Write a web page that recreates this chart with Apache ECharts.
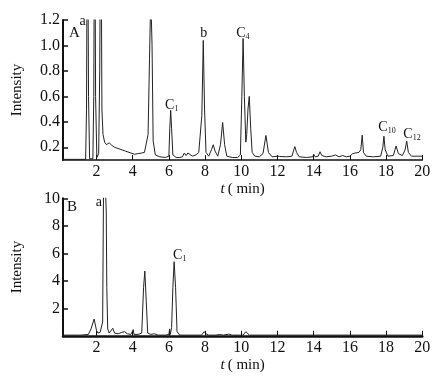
<!DOCTYPE html>
<html><head><meta charset="utf-8">
<script src="https://cdn.jsdelivr.net/npm/echarts@6/dist/echarts.min.js"></script>
<style>html,body{margin:0;padding:0;background:#fff}#c{width:443px;height:382px}</style>
</head><body><div id="c"></div>
<script>
// ---- Data ----
const timeA = [0.15,1.40,1.45,1.50,1.56,1.62,1.80,1.85,1.90,1.95,2.02,2.12,2.18,2.24,2.30,2.36,2.45,2.55,2.7,2.85,3.0,3.3,3.6,3.9,4.1,4.3,4.5,4.65,4.75,4.85,4.93,5.0,5.07,5.13,5.25,5.5,5.8,6.0,6.05,6.1,6.15,6.22,6.4,6.6,6.75,6.85,6.95,7.05,7.15,7.3,7.5,7.65,7.75,7.82,7.9,7.97,8.05,8.2,8.35,8.45,8.55,8.7,8.85,8.97,9.08,9.2,9.5,9.8,9.95,10.03,10.1,10.17,10.25,10.3,10.37,10.44,10.52,10.6,10.75,11.0,11.2,11.36,11.5,11.7,12.0,12.05,12.12,12.5,12.8,12.9,12.96,13.05,13.2,13.6,13.95,14.0,14.08,14.25,14.35,14.45,14.7,15.0,15.2,15.4,15.6,15.8,16.0,16.15,16.3,16.4,16.5,16.6,16.68,16.75,16.9,17.3,17.7,17.82,17.88,17.95,18.1,18.4,18.55,18.68,18.9,19.05,19.14,19.23,19.4,19.8,20];
const intensityA = [0.105,0.105,0.5,2.5,0.6,0.11,0.11,0.6,2.5,0.6,0.12,0.15,0.8,2.5,0.5,0.3,0.24,0.22,0.235,0.215,0.2,0.185,0.17,0.155,0.145,0.15,0.155,0.16,0.145,0.3,0.9,1.4,1.0,0.25,0.14,0.125,0.12,0.13,0.35,0.49,0.35,0.14,0.12,0.12,0.125,0.155,0.135,0.155,0.14,0.13,0.14,0.16,0.15,0.45,1.04,0.5,0.16,0.13,0.18,0.22,0.17,0.13,0.22,0.395,0.22,0.13,0.12,0.12,0.14,0.6,1.055,0.6,0.24,0.3,0.5,0.6,0.35,0.16,0.13,0.125,0.15,0.293,0.16,0.125,0.13,0.145,0.128,0.125,0.13,0.18,0.205,0.16,0.125,0.12,0.125,0.145,0.125,0.13,0.165,0.135,0.125,0.13,0.14,0.125,0.135,0.125,0.13,0.15,0.155,0.17,0.16,0.18,0.295,0.16,0.13,0.125,0.13,0.2,0.287,0.18,0.13,0.135,0.21,0.15,0.135,0.18,0.248,0.16,0.13,0.13,0.13];

const timeB = [0.15,1.0,1.07,1.15,1.55,1.7,1.87,2.0,2.08,2.2,2.3,2.34,2.38,2.41,2.51,2.54,2.57,2.62,2.7,2.8,2.9,3.0,3.2,3.4,3.55,3.7,3.9,4.0,4.03,4.07,4.3,4.5,4.6,4.67,4.75,4.83,5.0,5.2,5.4,5.8,6.0,6.04,6.08,6.15,6.22,6.29,6.37,6.45,6.6,7.8,7.95,8.05,8.2,8.6,8.8,9.0,9.3,9.5,10.1,10.25,10.35,10.45,20];
const intensityB = [0.05,0.05,0.15,0.05,0.1,0.5,1.22,0.4,0.2,0.25,0.3,1.0,9,14,14,9,3.5,0.5,0.2,0.25,0.55,0.2,0.15,0.25,0.3,0.15,0.1,0.1,0.45,0.1,0.1,0.2,3.5,4.71,2.5,0.2,0.1,0.15,0.05,0.05,0.1,0.5,0.1,0.6,3.5,5.39,3.5,0.3,0.05,0.05,0.3,0.15,0.05,0.05,0.1,0.05,0.12,0.05,0.05,0.3,0.3,0.05,0.05];

const xTicks = [2,4,6,8,10,12,14,16,18,20];
const yTicksA = [0.2,0.4,0.6,0.8,1.0,1.2];
const yTicksB = [2,4,6,8,10];

const peakLabelsA = ['a','b','C|1','C|4','C|10','C|12'];
const peakPosA = [[1.24,1.19],[7.93,1.094],[6.16,0.531],[10.09,1.094],[18.05,0.356],[19.43,0.30]];
const peakLabelsB = ['a','C|1'];
const peakPosB = [[2.13,9.73],[6.6,5.88]];

// ---- Chart ----
const FONT = '"Liberation Serif", "DejaVu Serif", serif';
const chart = echarts.init(document.getElementById('c'), null, {renderer:'canvas'});

function lbl(s){
  const p = s.split('|');
  return p.length === 2 ? p[0] + '{s|' + p[1] + '}' : s;
}
function marks(labels, pos){
  return {
    symbol: 'circle', symbolSize: 0, silent: true,
    label: {show:true, position:'inside', color:'#111', fontFamily:FONT, fontSize:14,
      rich:{s:{fontSize:8, fontFamily:FONT, color:'#111', padding:[7,0,0,0]}}},
    data: labels.map((l,i)=>({coord: pos[i], label:{formatter: lbl(l)}}))
  };
}
function xAxisCfg(gi){
  return {
    type:'value', gridIndex:gi, min:0.15, max:20,
    name:'{i|t}{n|( min)}', nameLocation:'middle', nameGap:22,
    nameTextStyle:{rich:{i:{fontStyle:'italic', fontFamily:FONT, fontSize:15, color:'#111', padding:[0,3,0,0]}, n:{fontFamily:FONT, fontSize:15, color:'#111'}}},
    axisLine:{show:true, onZero:false, lineStyle:{color:'#111', width: gi===0?1.5:2.5}},
    axisTick:{show:true, inside:true, length:5, customValues:xTicks, lineStyle:{color:'#111'}},
    axisLabel:{customValues:xTicks, fontFamily:FONT, fontSize:16, color:'#111', margin:4},
    splitLine:{show:false}
  };
}
function yAxisCfg(gi, min, max, ticks, fmt){
  return {
    type:'value', gridIndex:gi, min:min, max:max,
    name:'Intensity', nameLocation:'middle', nameGap:38, nameRotate:90,
    nameTextStyle:{fontFamily:FONT, fontSize:15, color:'#111'},
    axisLine:{show:true, onZero:false, lineStyle:{color:'#111', width:2}},
    axisTick:{show:true, inside:true, length:5, customValues:ticks, lineStyle:{color:'#111', width:1.5}},
    axisLabel:{customValues:ticks, formatter:fmt, fontFamily:FONT, fontSize:16, color:'#111', margin:3},
    splitLine:{show:false}
  };
}

chart.setOption({
  animation:false,
  backgroundColor:'#fff',
  grid:[
    {left:63, right:20.7, top:20, height:140},
    {left:63, right:20.7, top:198.3, height:137.5}
  ],
  xAxis:[xAxisCfg(0), xAxisCfg(1)],
  yAxis:[
    yAxisCfg(0, 0.1, 1.2, yTicksA, v=>v.toFixed(1)),
    yAxisCfg(1, 0, 10, yTicksB, v=>String(v))
  ],
  graphic:[
    {type:'text', left:69, top:26, style:{text:'A', font:'15px ' + FONT, fill:'#111'}},
    {type:'text', left:67, top:200, style:{text:'B', font:'15px ' + FONT, fill:'#111'}}
  ],
  series:[
    {type:'line', xAxisIndex:0, yAxisIndex:0, showSymbol:false, clip:true,
     lineStyle:{color:'#222', width:1}, data: timeA.map((t,i)=>[t,intensityA[i]]),
     markPoint: marks(peakLabelsA, peakPosA)},
    {type:'line', xAxisIndex:1, yAxisIndex:1, showSymbol:false, clip:true,
     lineStyle:{color:'#222', width:1}, data: timeB.map((t,i)=>[t,intensityB[i]]),
     markPoint: marks(peakLabelsB, peakPosB)}
  ]
});
</script>
</body></html>
